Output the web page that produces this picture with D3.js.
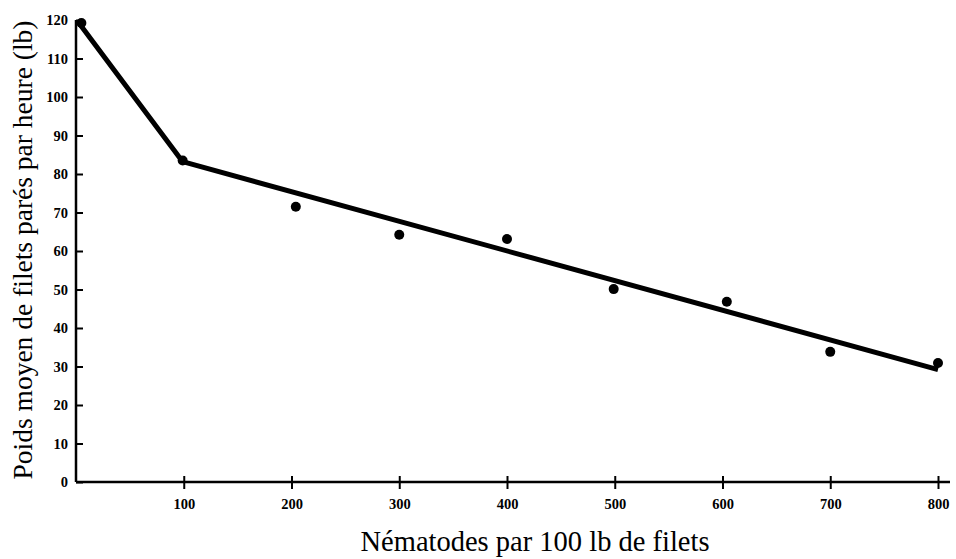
<!DOCTYPE html>
<html>
<head>
<meta charset="utf-8">
<script src="https://cdn.jsdelivr.net/npm/d3@7"></script>
<style>
  body { margin: 0; background: #fff; }
  .tick text { font-family: "Liberation Serif", serif; font-weight: bold; font-size: 14.5px; fill: #000; }
  .title { font-family: "Liberation Serif", serif; fill: #000; }
</style>
</head>
<body>
<svg id="chart" width="956" height="559"></svg>
<script>
// observed points
var nematodes = [5, 99, 204, 300, 400, 499, 604, 700, 800];
var poids = [119.2, 83.5, 71.5, 64.2, 63.1, 50.1, 46.8, 33.8, 30.9];
// fitted broken line
var fitX = [2, 99, 800];
var fitY = [119.5, 83.2, 29.2];
var xTicks = [100, 200, 300, 400, 500, 600, 700, 800];
var yTicks = [0, 10, 20, 30, 40, 50, 60, 70, 80, 90, 100, 110, 120];

var svg = d3.select('#chart');
var margin = { top: 20, right: 6, bottom: 77, left: 76 };
var width = 956, height = 559;

var xScale = d3.scaleLinear()
    .domain([0, 800])
    .range([margin.left, 938]);
var yScale = d3.scaleLinear()
    .domain([0, 120])
    .range([height - margin.bottom, margin.top]);

var xAxis = d3.axisBottom(xScale)
    .tickValues(xTicks)
    .tickSize(0)
    .tickPadding(17);
var yAxis = d3.axisLeft(yScale)
    .tickValues(yTicks)
    .tickSize(0)
    .tickPadding(8);

var gx = svg.append("g").attr("class", "axis")
    .attr("transform", "translate(" + [0, yScale(0)] + ")")
    .call(xAxis);
gx.select(".domain").remove();
gx.selectAll(".tick").append("line")
    .attr("y1", -6).attr("y2", 7)
    .attr("stroke", "#000").attr("stroke-width", 2);

var gy = svg.append("g").attr("class", "axis")
    .attr("transform", "translate(" + [xScale(0), 0] + ")")
    .call(yAxis);
gy.select(".domain").remove();
gy.selectAll(".tick").append("line")
    .attr("x1", 0).attr("x2", 7)
    .attr("stroke", "#000").attr("stroke-width", 2);

// axis lines
svg.append("line")
    .attr("x1", xScale(0)).attr("x2", width - margin.right)
    .attr("y1", yScale(0)).attr("y2", yScale(0))
    .attr("stroke", "#000").attr("stroke-width", 2.5);
svg.append("line")
    .attr("x1", xScale(0)).attr("x2", xScale(0))
    .attr("y1", yScale(120)).attr("y2", yScale(0))
    .attr("stroke", "#000").attr("stroke-width", 2.5);

var line = d3.line()
    .x((d, i) => xScale(fitX[i]))
    .y((d, i) => yScale(fitY[i]));

svg.append("path")
    .attr("d", line(fitX))
    .attr("fill", "none")
    .attr("stroke", "#000")
    .attr("stroke-width", 5)
    .attr("stroke-linejoin", "round");

svg.selectAll("circle")
    .data(nematodes)
    .enter().append("circle")
    .attr("cx", d => xScale(d))
    .attr("cy", (d, i) => yScale(poids[i]))
    .attr("r", 5)
    .attr("fill", "#000");

svg.append("text")
    .attr("class", "title")
    .attr("x", 535)
    .attr("y", 551)
    .attr("text-anchor", "middle")
    .style("font-size", "28.5px")
    .text("Nématodes par 100 lb de filets");

svg.append("text")
    .attr("class", "title")
    .attr("transform", "translate(" + [32, 250] + ") rotate(-90)")
    .attr("text-anchor", "middle")
    .style("font-size", "27.5px")
    .text("Poids moyen de filets parés par heure (lb)");
</script>
</body>
</html>
